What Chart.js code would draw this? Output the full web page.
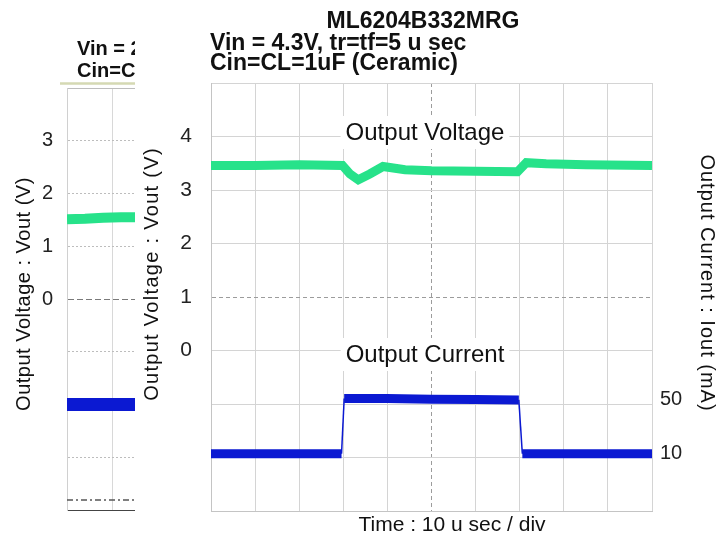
<!DOCTYPE html>
<html>
<head>
<meta charset="utf-8">
<script src="https://cdn.jsdelivr.net/npm/chart.js@4.4.0/dist/chart.umd.min.js"></script>
<style>
  html, body { margin: 0; padding: 0; background: #fff; }
  body { width: 720px; height: 535px; position: relative; overflow: hidden; }
  #back { position: absolute; left: 0; top: 0; }
  #front { position: absolute; left: 135px; top: 0; background: #fff; }
</style>
</head>
<body>
<canvas id="back" width="600" height="535"></canvas>
<canvas id="front" width="585" height="535"></canvas>
<script>
// front scope shot: load transient, 10 us/div
const voutTime = [0, 10, 20, 29.8, 31.5, 33.4, 36, 39, 44, 50, 60, 69.5, 71.5, 76, 85, 100];
const voutValues = [3.46, 3.46, 3.47, 3.46, 3.3, 3.19, 3.3, 3.44, 3.38, 3.36, 3.35, 3.34, 3.51, 3.49, 3.47, 3.46];
const ioutTime = [0, 10, 20, 29.6, 30.2, 40, 50, 60, 69.8, 70.6, 80, 90, 100];
const ioutValues = [10, 10, 10, 10, 50.5, 50.5, 50, 49.8, 49.5, 10, 10, 10, 10];
const voltTicks = [0, 1, 2, 3, 4];
const currentTicks = [10, 50];

// the scope shot lying behind, only its left edge shows
const backTime = [0, 4, 8, 12, 16];
const backVout = [1.51, 1.52, 1.54, 1.55, 1.55];
const backIout = [10, 10, 10, 10, 10];
const backRef = [-3.81, -3.81, -3.81, -3.81, -3.81];
const backVoltTicks = [0, 1, 2, 3];

const FONT = "'Liberation Sans', Arial, sans-serif";
const green = '#27e28a';
const blue = '#0b19d2';
const gridLight = '#d4d4d4';
const gridCenter = '#9c9c9c';

function pairs(xs, ys) {
    return xs.map((x, i) => ({ x: x, y: ys[i] }));
}

// free text drawn on the canvas (titles, trace names, axis names)
function textLayer(id, items, lines) {
    return {
        id: id,
        afterDraw(chart) {
            const ctx = chart.ctx;
            (lines || []).forEach(l => {
                ctx.save();
                ctx.strokeStyle = l.color;
                ctx.lineWidth = l.width;
                ctx.beginPath();
                ctx.moveTo(l.x0, l.y);
                ctx.lineTo(l.x1, l.y);
                ctx.stroke();
                ctx.restore();
            });
            items.forEach(it => {
                ctx.save();
                ctx.font = it.font;
                if (it.spacing) ctx.letterSpacing = it.spacing;
                ctx.textAlign = it.align || 'left';
                ctx.textBaseline = it.baseline || 'alphabetic';
                ctx.translate(it.x, it.y);
                if (it.rotate) ctx.rotate(it.rotate);
                if (it.box) {
                    const w = ctx.measureText(it.text).width;
                    ctx.fillStyle = '#fff';
                    ctx.fillRect(-w / 2 - 5, -24, w + 10, 33);
                }
                ctx.fillStyle = it.color || '#111';
                ctx.fillText(it.text, 0, 0);
                ctx.restore();
            });
        }
    };
}

const isTick = (c, v) => c.tick && c.tick.value === v;

// fixed axis sizes so the plot box lands where the scope grid is
function fixWidth(w) {
    return s => { s.width = w; s.paddingTop = 0; s.paddingBottom = 0; };
}
function fixHeight(h) {
    return s => { s.height = h; s.paddingLeft = 0; s.paddingRight = 0; };
}

// ---------- back chart ----------
new Chart(document.getElementById('back'), {
    type: 'line',
    data: {
        datasets: [
            { data: pairs(backTime, backVout), yAxisID: 'y', borderColor: green, borderWidth: 10, pointRadius: 0 },
            { data: pairs(backTime, backIout), yAxisID: 'y1', borderColor: blue, borderWidth: 13, pointRadius: 0 },
            { data: pairs(backTime, backRef), yAxisID: 'y', borderColor: '#555', borderWidth: 1.5, borderDash: [6, 3, 2, 3], pointRadius: 0 },
        ],
    },
    options: {
        responsive: false,
        animation: false,
        layout: { padding: { top: 88, right: 83 }, autoPadding: false },
        plugins: { legend: { display: false }, tooltip: { enabled: false } },
        scales: {
            x: {
                type: 'linear', min: 0, max: 100,
                ticks: { stepSize: 10, display: false },
                grid: { drawTicks: false, color: '#d8d8d8' },
                border: { color: '#444', dash: c => c.tick ? [] : [6, 3] },
                afterFit: fixHeight(25),
            },
            y: {
                position: 'left', min: -4, max: 4,
                ticks: {
                    stepSize: 1, padding: 14, color: '#222',
                    font: { family: FONT, size: 20 },
                    callback: v => backVoltTicks.includes(v) ? v : '',
                },
                grid: {
                    drawTicks: false,
                    color: c => isTick(c, 0) ? '#7a7a7a' : (isTick(c, -4) ? '#444' : '#bdbdbd'),
                },
                border: {
                    color: '#d0d0d0',
                    dash: c => isTick(c, 4) || !c.tick ? [] : (isTick(c, 0) || isTick(c, -4) ? [6, 3] : [2, 2]),
                },
                afterFit: fixWidth(67),
            },
            y1: { display: false, min: -70, max: 250 },
        },
    },
    plugins: [textLayer('backText', [
        { text: 'Vin = 2', x: 77, y: 55, font: 'bold 20px ' + FONT },
        { text: 'Cin=C', x: 77, y: 77, font: 'bold 20px ' + FONT },
        { text: 'Output Voltage : Vout (V)', x: 24, y: 294, font: '20px ' + FONT, spacing: '0.5px',
          align: 'center', baseline: 'middle', rotate: -Math.PI / 2 },
    ], [
        { x0: 60, x1: 600, y: 83.5, width: 2.5, color: '#d5d9b3' },
    ])],
});

// ---------- front chart ----------
new Chart(document.getElementById('front'), {
    type: 'line',
    data: {
        datasets: [
            {
                label: 'Output Voltage',
                data: pairs(voutTime, voutValues),
                yAxisID: 'y',
                borderColor: green,
                borderWidth: 9,
                pointRadius: 0,
                tension: 0,
            },
            {
                label: 'Output Current',
                data: pairs(ioutTime, ioutValues),
                yAxisID: 'y1',
                borderColor: blue,
                borderWidth: 9,
                pointRadius: 0,
                tension: 0,
                // the step edges are thin, the noisy flat parts are a thick band
                segment: {
                    borderWidth: c => Math.abs(c.p1.parsed.y - c.p0.parsed.y) > 20 ? 1.5 : 9,
                },
            },
        ],
    },
    options: {
        responsive: false,
        animation: false,
        layout: { padding: { top: 83 }, autoPadding: false },
        plugins: { legend: { display: false }, tooltip: { enabled: false } },
        scales: {
            x: {
                type: 'linear', min: 0, max: 100,
                ticks: { stepSize: 10, display: false },
                grid: { drawTicks: false, color: c => isTick(c, 50) ? gridCenter : gridLight },
                border: { color: '#c4c4c4', dash: c => isTick(c, 50) ? [4, 3] : [] },
                afterFit: fixHeight(24),
            },
            y: {
                position: 'left', min: -3, max: 5,
                ticks: {
                    stepSize: 1, padding: 19, color: '#222',
                    font: { family: FONT, size: 21 },
                    callback: v => voltTicks.includes(v) ? v : '',
                },
                grid: { drawTicks: false, color: c => isTick(c, 1) ? gridCenter : gridLight },
                border: { color: '#c4c4c4', dash: c => isTick(c, 1) ? [4, 3] : [] },
                afterFit: fixWidth(76),
            },
            y1: {
                position: 'right', min: -32, max: 282,
                afterBuildTicks: s => { s.ticks = currentTicks.map(v => ({ value: v })); },
                ticks: { padding: 8, color: '#222', font: { family: FONT, size: 20 } },
                grid: { display: false, drawTicks: false },
                border: { display: false },
                afterFit: fixWidth(68),
            },
        },
    },
    plugins: [textLayer('frontText', [
        { text: 'ML6204B332MRG', x: 288, y: 28, font: 'bold 23px ' + FONT, align: 'center' },
        { text: 'Vin = 4.3V, tr=tf=5 u sec', x: 75, y: 50, font: 'bold 23px ' + FONT },
        { text: 'Cin=CL=1uF (Ceramic)', x: 75, y: 70, font: 'bold 23px ' + FONT },
        { text: 'Output Voltage', x: 290, y: 140, font: '24px ' + FONT, align: 'center', box: true },
        { text: 'Output Current', x: 290, y: 362, font: '24px ' + FONT, align: 'center', box: true },
        { text: 'Output Voltage : Vout (V)', x: 17, y: 274, font: '20px ' + FONT, spacing: '1.3px',
          align: 'center', baseline: 'middle', rotate: -Math.PI / 2 },
        { text: 'Output Current : Iout (mA)', x: 572, y: 283, font: '20px ' + FONT, spacing: '1px',
          align: 'center', baseline: 'middle', rotate: Math.PI / 2 },
        { text: 'Time : 10 u sec / div', x: 317, y: 531, font: '21px ' + FONT, align: 'center' },
    ])],
});
</script>
</body>
</html>
